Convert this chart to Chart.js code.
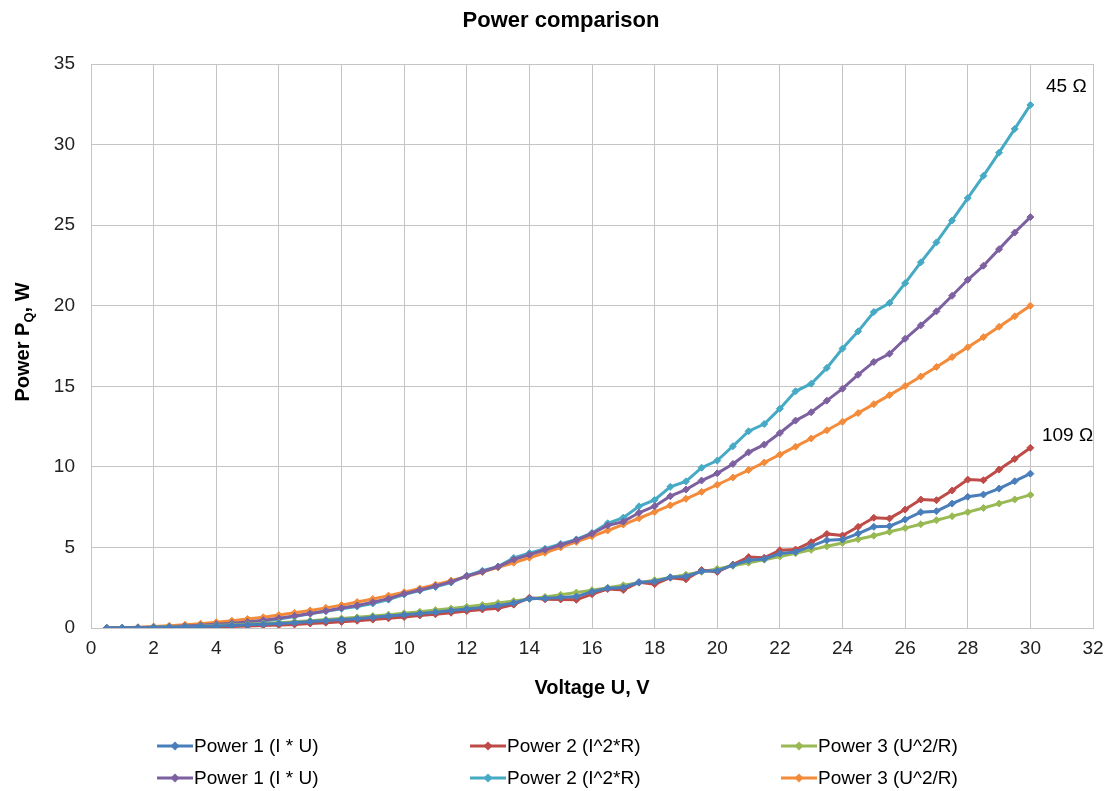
<!DOCTYPE html>
<html>
<head>
<meta charset="utf-8">
<script src="https://cdn.jsdelivr.net/npm/chart.js@4.4.1/dist/chart.umd.min.js"></script>
<style>
  html, body { margin: 0; padding: 0; background: #ffffff; }
  #wrap { position: relative; width: 1113px; height: 791px; }
  canvas { display: block; }
</style>
</head>
<body>
<div id="wrap"><canvas id="c" width="1113" height="791"></canvas></div>
<script>
// ---- data ----
const voltage = [0.5,1,1.5,2,2.5,3,3.5,4,4.5,5,5.5,6,6.5,7,7.5,8,8.5,9,9.5,10,
  10.5,11,11.5,12,12.5,13,13.5,14,14.5,15,15.5,16,16.5,17,17.5,18,18.5,19,19.5,20,
  20.5,21,21.5,22,22.5,23,23.5,24,24.5,25,25.5,26,26.5,27,27.5,28,28.5,29,29.5,30];

// 109 Ohm
const power1_109 = [0,0.01,0.02,0.03,0.05,0.07,0.1,0.13,0.16,0.2,0.24,0.28,0.33,0.4,0.46,0.52,0.58,0.66,0.74,0.82,
  0.9,0.98,1.08,1.18,1.28,1.38,1.55,1.82,1.84,1.9,1.95,2.25,2.47,2.52,2.84,2.88,3.15,3.2,3.52,3.55,
  3.9,4.2,4.28,4.62,4.72,5.08,5.45,5.49,5.86,6.28,6.32,6.73,7.19,7.25,7.72,8.14,8.28,8.65,9.11,9.58];
const power2_109 = [0,0,0.01,0.02,0.03,0.04,0.06,0.08,0.1,0.13,0.16,0.18,0.22,0.28,0.33,0.38,0.45,0.52,0.6,0.68,
  0.78,0.85,0.95,1.05,1.15,1.22,1.45,1.88,1.78,1.77,1.75,2.1,2.42,2.36,2.84,2.72,3.12,3.02,3.6,3.48,
  3.94,4.4,4.36,4.83,4.87,5.33,5.84,5.74,6.28,6.84,6.8,7.35,7.97,7.93,8.53,9.21,9.17,9.83,10.49,11.18];
const power3_109 = [0,0.01,0.02,0.04,0.06,0.08,0.11,0.15,0.19,0.23,0.28,0.33,0.39,0.45,0.52,0.59,0.66,0.74,0.83,0.92,
  1.01,1.11,1.21,1.32,1.43,1.55,1.67,1.8,1.93,2.06,2.2,2.35,2.5,2.65,2.81,2.97,3.14,3.31,3.49,3.67,
  3.86,4.05,4.24,4.44,4.64,4.85,5.07,5.28,5.51,5.73,5.97,6.2,6.44,6.69,6.94,7.19,7.45,7.72,7.98,8.26];

// 45 Ohm
const power1_45 = [0,0.01,0.03,0.05,0.08,0.12,0.17,0.23,0.3,0.38,0.48,0.6,0.75,0.9,1.06,1.24,1.4,1.6,1.82,2.12,
  2.36,2.6,2.86,3.22,3.5,3.8,4.25,4.55,4.85,5.15,5.45,5.85,6.36,6.6,7.15,7.56,8.18,8.59,9.15,9.6,
  10.18,10.9,11.38,12.1,12.87,13.39,14.11,14.85,15.72,16.51,17.02,17.95,18.78,19.65,20.62,21.61,22.48,23.51,24.54,25.5];
const power2_45 = [0,0.01,0.02,0.04,0.06,0.09,0.13,0.18,0.24,0.33,0.42,0.56,0.72,0.88,1.04,1.2,1.33,1.52,1.76,2.08,
  2.32,2.55,2.82,3.25,3.55,3.82,4.35,4.65,4.92,5.22,5.5,5.9,6.5,6.85,7.55,7.95,8.76,9.1,9.95,10.39,
  11.28,12.21,12.66,13.61,14.69,15.16,16.14,17.34,18.41,19.61,20.17,21.4,22.69,23.93,25.29,26.68,28.06,29.5,30.97,32.46];
const power3_45 = [0.01,0.02,0.05,0.09,0.14,0.2,0.27,0.36,0.45,0.56,0.67,0.8,0.94,1.09,1.25,1.42,1.61,1.8,2.01,2.22,
  2.45,2.69,2.94,3.2,3.47,3.76,4.05,4.36,4.67,5.0,5.34,5.69,6.05,6.42,6.81,7.2,7.61,8.02,8.45,8.89,
  9.34,9.8,10.27,10.76,11.25,11.76,12.27,12.8,13.34,13.89,14.45,15.02,15.61,16.2,16.81,17.42,18.05,18.69,19.34,20.0];

const seriesNames = ['Power 1 (I * U)', 'Power 2 (I^2*R)', 'Power 3 (U^2/R)',
                     'Power 1 (I * U)', 'Power 2 (I^2*R)', 'Power 3 (U^2/R)'];
const seriesColors = ['#4A7EBB', '#BE4B48', '#98B954', '#7D60A0', '#46AAC5', '#F38B3A'];
const seriesValues = [power1_109, power2_109, power3_109, power1_45, power2_45, power3_45];

const xTickMax = 32, xTickStep = 2;
const yTickMax = 35, yTickStep = 5;

const annotations = [
  { text: '45 \u03A9', x: 30.5, y: 33.6 },
  { text: '109 \u03A9', x: 30.37, y: 11.95 }
];

const chartTitle = 'Power comparison';
const xTitle = 'Voltage U, V';

// ---- chart ----
const FONT = "'Liberation Sans', Arial, sans-serif";
Chart.defaults.font.family = FONT;
Chart.defaults.color = '#222';

const datasets = seriesValues.map((vals, i) => ({
  label: seriesNames[i],
  data: voltage.map((v, k) => ({ x: v, y: vals[k] })),
  borderColor: seriesColors[i],
  backgroundColor: seriesColors[i],
  borderWidth: 3,
  pointStyle: 'rectRot',
  pointRadius: 3.5,
  pointBorderWidth: 1,
  pointHoverRadius: 3.5,
  tension: 0,
  fill: false
}));

const extras = {
  id: 'extras',
  afterDraw(chart) {
    const ctx = chart.ctx;
    const xs = chart.scales.x, ys = chart.scales.y;
    ctx.save();
    ctx.fillStyle = '#000';
    // title
    ctx.font = 'bold 22px ' + FONT;
    ctx.textAlign = 'center';
    ctx.textBaseline = 'middle';
    ctx.fillText(chartTitle, 561, 21);

    // y axis title with subscript
    ctx.save();
    ctx.translate(22, 342);
    ctx.rotate(-Math.PI / 2);
    const bigF = 'bold 20px ' + FONT, subF = 'bold 13px ' + FONT;
    ctx.font = bigF; const w1 = ctx.measureText('Power P').width;
    const w3 = ctx.measureText(', W').width;
    ctx.font = subF; const w2 = ctx.measureText('Q').width;
    let x0 = -(w1 + w2 + w3) / 2;
    ctx.textAlign = 'left';
    ctx.textBaseline = 'alphabetic';
    ctx.font = bigF; ctx.fillText('Power P', x0, 7);
    ctx.font = subF; ctx.fillText('Q', x0 + w1, 11);
    ctx.font = bigF; ctx.fillText(', W', x0 + w1 + w2, 7);
    ctx.restore();

    // annotations
    ctx.font = '19px ' + FONT;
    ctx.textAlign = 'left';
    ctx.textBaseline = 'middle';
    annotations.forEach(a => {
      ctx.fillText(a.text, xs.getPixelForValue(a.x), ys.getPixelForValue(a.y));
    });

    // legend
    const colX = [157, 470, 781];
    const rowY = [746, 778];
    ctx.font = '19px ' + FONT;
    seriesNames.forEach((name, i) => {
      const cx = colX[i % 3], cy = rowY[Math.floor(i / 3)];
      ctx.strokeStyle = seriesColors[i];
      ctx.lineWidth = 3;
      ctx.beginPath(); ctx.moveTo(cx, cy); ctx.lineTo(cx + 36, cy); ctx.stroke();
      ctx.fillStyle = seriesColors[i];
      ctx.beginPath();
      ctx.moveTo(cx + 18, cy - 4.5); ctx.lineTo(cx + 22.5, cy);
      ctx.lineTo(cx + 18, cy + 4.5); ctx.lineTo(cx + 13.5, cy);
      ctx.closePath(); ctx.fill();
      ctx.fillStyle = '#000';
      ctx.fillText(name, cx + 37, cy + 1);
    });
    ctx.restore();
  }
};

new Chart(document.getElementById('c'), {
  type: 'line',
  data: { datasets },
  options: {
    responsive: false,
    animation: false,
    layout: { padding: { top: 64, right: 20, bottom: 91, left: 0 } },
    plugins: { legend: { display: false }, title: { display: false }, tooltip: { enabled: false } },
    scales: {
      x: {
        type: 'linear',
        min: 0, max: xTickMax,
        afterFit(s) { s.height = 72; },
        ticks: { stepSize: xTickStep, padding: 9, font: { size: 19 }, color: '#222', maxRotation: 0 },
        grid: { color: '#c4c4c4', drawTicks: false, lineWidth: 1 },
        border: { color: '#c4c4c4' },
        title: { display: true, text: xTitle, font: { size: 20, weight: 'bold' }, color: '#000', padding: 0 }
      },
      y: {
        min: 0, max: yTickMax,
        afterFit(s) { s.width = 91; },
        ticks: { stepSize: yTickStep, padding: 16, font: { size: 19 }, color: '#222' },
        grid: { color: '#c4c4c4', drawTicks: false, lineWidth: 1 },
        border: { color: '#c4c4c4' }
      }
    }
  },
  plugins: [extras]
});
</script>
</body>
</html>
